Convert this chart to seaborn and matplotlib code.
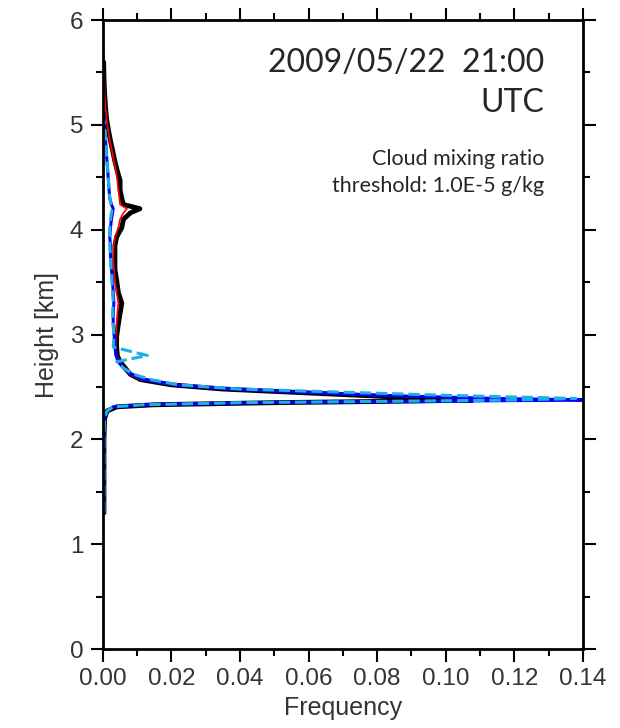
import numpy as np
import pandas as pd
import seaborn as sns
import matplotlib.pyplot as plt
from matplotlib.ticker import MultipleLocator

# Heights (km) shared by all profiles
heights = [1.30, 1.60, 2.00, 2.20, 2.27, 2.31, 2.33, 2.35, 2.365, 2.375,
           2.39, 2.42, 2.45, 2.48, 2.52, 2.57, 2.62, 2.68, 2.74, 2.80,
           2.88, 2.98, 3.10, 3.20, 3.30, 3.40, 3.52, 3.62, 3.75, 3.85,
           3.93, 4.02, 4.10, 4.16, 4.20, 4.24, 4.30, 4.38, 4.47, 4.56,
           4.65, 4.73, 4.85, 4.95, 5.05, 5.15, 5.30, 5.45, 5.60, 5.70]

# Frequency profiles
freq_black = [0.0003, 0.0003, 0.0003, 0.0005, 0.0012, 0.004, 0.015, 0.05, 0.09, 0.108,
              0.095, 0.075, 0.055, 0.035, 0.02, 0.011, 0.008, 0.0065, 0.005, 0.0042,
              0.004, 0.004, 0.0045, 0.005, 0.0055, 0.0045, 0.004, 0.0035, 0.0035, 0.0035,
              0.004, 0.0055, 0.006, 0.008, 0.0108, 0.006, 0.0055, 0.005, 0.005, 0.0042,
              0.0035, 0.003, 0.0022, 0.0016, 0.0011, 0.0008, 0.0005, 0.0003, 0.0002]
freq_red = [0.0003, 0.0003, 0.0003, 0.0005, 0.0012, 0.003, 0.012, 0.045, 0.10, 0.15,
            0.11, 0.078, 0.056, 0.036, 0.02, 0.011, 0.0075, 0.006, 0.0048, 0.004,
            0.0038, 0.0037, 0.004, 0.0042, 0.0045, 0.004, 0.0035, 0.0032, 0.003, 0.0032,
            0.0035, 0.0045, 0.005, 0.006, 0.007, 0.005, 0.0048, 0.0045, 0.0042, 0.0038,
            0.0032, 0.0028, 0.002, 0.0015, 0.0011, 0.0008, 0.0005, 0.0004, 0.0003, 0.0001]
freq_blue = [0.0003, 0.0003, 0.0003, 0.0005, 0.0012, 0.003, 0.012, 0.045, 0.10, 0.145,
             0.115, 0.08, 0.058, 0.037, 0.021, 0.012, 0.008, 0.006, 0.0045, 0.0038,
             0.0035, 0.0033, 0.003, 0.003, 0.0032, 0.003, 0.0028, 0.0025, 0.0022, 0.0022,
             0.002, 0.0022, 0.0025, 0.0028, 0.003, 0.0025, 0.002, 0.0018, 0.0016, 0.0014,
             0.0012, 0.001, 0.0008, 0.0006, 0.0003]
freq_cyan = [0.0003, 0.0003, 0.0003, 0.0005, 0.0012, 0.003, 0.012, 0.04, 0.09, 0.12,
             0.138, 0.10, 0.07, 0.04, 0.022, 0.014, 0.009, 0.006, 0.004, 0.013,
             0.003, 0.0032, 0.003, 0.0028, 0.003, 0.0028, 0.0026, 0.0024, 0.0022, 0.002,
             0.002, 0.002, 0.0022, 0.0025, 0.0027, 0.0024, 0.002, 0.0018, 0.0016, 0.0014,
             0.0012, 0.001, 0.0008, 0.0006, 0.0003]

sns.set_style("ticks")
plt.rcParams['font.family'] = ['Liberation Sans', 'DejaVu Sans']
plt.rcParams['axes.linewidth'] = 2

fig = plt.figure(figsize=(6.2, 7.28), dpi=100)
ax = fig.add_axes([0.166, 0.1085, 0.774, 0.864])

series = [(freq_black, "black", 3.5, "-"),
          (freq_red, "red", 1.2, "-"),
          (freq_blue, "blue", 2.2, "-"),
          (freq_cyan, "#1eaee6", 2.2, "--")]
for freq, color, lw, ls in series:
    df = pd.DataFrame({"freq": freq, "height": heights[:len(freq)]})
    sns.lineplot(data=df, x="freq", y="height", sort=False, estimator=None,
                 color=color, lw=lw, linestyle=ls, ax=ax)

ax.set_xlim(0, 0.14)
ax.set_ylim(0, 6)
ax.xaxis.set_major_locator(MultipleLocator(0.02))
ax.xaxis.set_minor_locator(MultipleLocator(0.01))
ax.yaxis.set_major_locator(MultipleLocator(1))
ax.yaxis.set_minor_locator(MultipleLocator(0.5))
ax.xaxis.set_major_formatter(plt.FormatStrFormatter('%.2f'))
ax.tick_params(which="both", direction="out", top=True, right=True,
               width=1.5, color="black", labelsize=17.5, labelcolor="#333333")
ax.tick_params(which="major", length=9, pad=5)
ax.tick_params(which="minor", length=5)
ax.set_xlabel("Frequency", fontsize=18, labelpad=4, color="#333333")
ax.set_ylabel("Height [km]", fontsize=18, labelpad=8, color="#333333")
for s in ax.spines.values():
    s.set_color("black")

ax.text(0.92, 0.955, "2009/05/22  21:00\nUTC", transform=ax.transAxes,
        ha="right", va="top", fontsize=23, family=["Lato", "DejaVu Sans"],
        linespacing=1.4)
ax.text(0.92, 0.795, "Cloud mixing ratio\nthreshold: 1.0E-5 g/kg", transform=ax.transAxes,
        ha="right", va="top", fontsize=15.5, family=["Lato", "DejaVu Sans"],
        linespacing=1.45)

fig.savefig("out.png", dpi=100)
